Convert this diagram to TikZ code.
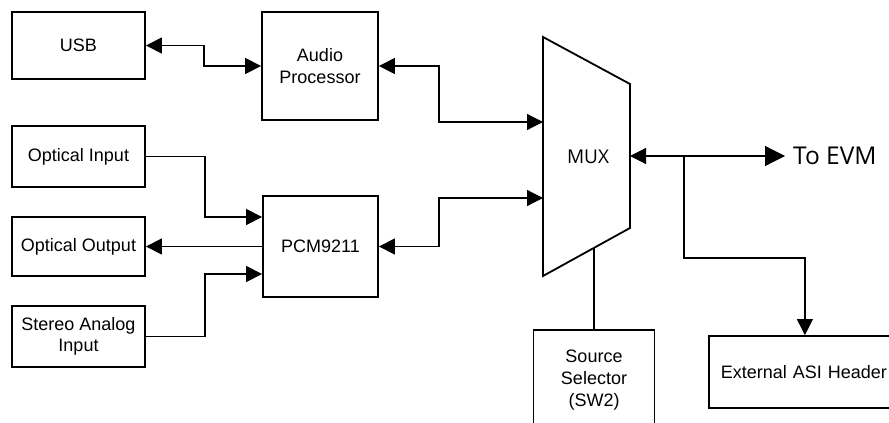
\documentclass[tikz,border=0pt]{standalone}
\usepackage{fontspec}
\setmainfont{Liberation Sans}
\newfontfamily\muxfont{Open Sans}
\usetikzlibrary{arrows.meta, positioning, calc}

\begin{document}
\begin{tikzpicture}[
    x=1pt, y=-1pt,
    box/.style={draw, line width=1.8pt, align=center, inner sep=0pt, font=\fontsize{18}{21.6}\selectfont},
    arrow/.style={-{Triangle[length=16pt,width=16pt]}, line width=1.2pt},
    dblarrow/.style={{Triangle[length=16pt,width=16pt]}-{Triangle[length=16pt,width=16pt]}, line width=1.2pt},
    wire/.style={line width=1.2pt}
]
    \useasboundingbox (0,0) rectangle (889,423);

    % Sources on the left
    \node[box, minimum width=133pt, minimum height=67pt] (usb) at (78.5,45.5) {USB};
    \node[box, minimum width=133pt, minimum height=61pt] (optin) at (78.5,156.5) {Optical Input};
    \node[box, minimum width=133pt, minimum height=59pt] (optout) at (78.5,246.5) {Optical Output};
    \node[box, minimum width=133pt, minimum height=61pt] (stereo) at (78.5,336.5) {Stereo Analog\\Input};

    % Processing blocks
    \node[box, minimum width=116pt, minimum height=108pt] (audio) at (320,66) {Audio\\Processor};
    \node[box, minimum width=115pt, minimum height=101pt] (pcm) at (320.5,246.5) {PCM9211};

    % MUX
    \draw[line width=1.8pt] (543,37) -- (630,84) -- (630,228) -- (543,276) -- cycle;
    \node[font=\muxfont\fontsize{19}{22}\selectfont] (mux) at (588,157) {MUX};
    \coordinate (muxinA) at (543,122);
    \coordinate (muxinB) at (543,198);
    \coordinate (muxout) at (630,156);
    \coordinate (muxsel) at (594,248);
    \coordinate (split) at (684,156);

    % Outputs
    \node[font=\muxfont\fontsize{24.5}{28}\selectfont, anchor=west, inner xsep=8pt, inner ysep=0pt] (evm) at (785,156) {To EVM};
    \node[box, minimum width=121pt, minimum height=100pt] (src) at (594,380) {Source\\Selector\\(SW2)};
    \node[box, anchor=west, align=left, inner xsep=12pt, text width=206pt, minimum height=72pt] (ext) at (708,372) {External ASI Header};

    % Connections
    \draw[dblarrow] (usb.east) -- ++(58,0) |- (audio.west);
    \draw[dblarrow] (audio.east) -- ++(60,0) |- (muxinA);
    \draw[dblarrow] (pcm.east) -- ++(60,0) |- (muxinB);
    \draw[arrow] (optin.east) -- ++(59,0) |- ([yshift=29.5pt]pcm.west);
    \draw[arrow] (stereo.east) -- ++(59,0) |- ([yshift=-27.5pt]pcm.west);
    \draw[arrow] (pcm.west) -- (optout.east);
    \draw[wire] (muxsel) -- (src.north);

    \draw[{Triangle[length=16pt,width=16pt]}-{Triangle[length=20pt,width=20pt]}, line width=1.2pt] (muxout) -- (evm.west);
    \draw[arrow] (split) -- ++(0,102) -| ([xshift=-19pt]ext.north);

\end{tikzpicture}
\end{document}
